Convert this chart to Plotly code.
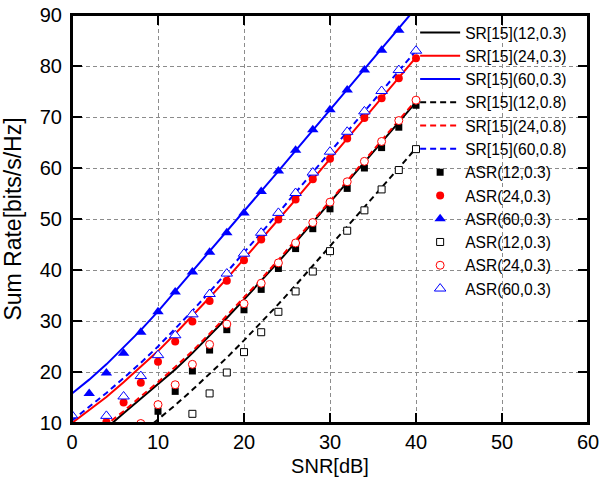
import plotly.graph_objects as go

# ---------------- data ----------------
snr = [0, 2, 4, 6, 8, 10, 12, 14, 16, 18, 20, 22, 24, 26, 28, 30, 32, 34, 36, 38, 40]

sr_12_03 = [3.8, 6.5, 9.0, 11.9, 14.8, 17.6, 20.5, 23.7, 27.1, 30.6, 34.2, 37.8, 41.6, 45.4, 49.3, 53.2, 57.1, 61.1, 65.0, 69.0, 72.9]
sr_24_03 = [10.0, 12.5, 15.1, 18.0, 21.0, 24.1, 27.5, 31.0, 34.6, 38.3, 42.1, 46.0, 49.9, 53.8, 57.8, 61.8, 65.8, 69.7, 73.7, 77.7, 81.7]
sr_60_03 = [15.8, 18.5, 21.5, 24.8, 28.2, 31.9, 35.8, 39.7, 43.6, 47.5, 51.4, 55.4, 59.4, 63.4, 67.4, 71.4, 75.4, 79.4, 83.4, 87.4, 91.4]
sr_12_08 = [-1.3, 1.0, 3.3, 5.6, 8.0, 10.7, 13.5, 16.5, 19.6, 22.8, 26.2, 29.7, 33.3, 37.0, 40.8, 44.6, 48.4, 52.3, 56.1, 60.0, 63.9]
sr_24_08 = [4.4, 7.0, 9.6, 12.3, 15.2, 18.0, 21.0, 24.1, 27.5, 31.0, 34.6, 38.2, 42.0, 45.8, 49.6, 53.5, 57.5, 61.4, 65.4, 69.3, 73.3]
sr_60_08 = [10.5, 13.2, 15.9, 18.8, 21.8, 25.0, 28.4, 32.0, 35.7, 39.5, 43.4, 47.3, 51.2, 55.2, 59.2, 63.2, 67.1, 71.1, 75.1, 79.1, 83.0]

asr_12_03_x = [10, 12, 14, 16, 18, 20, 22, 24, 26, 28, 30, 32, 34, 36, 38, 40]
asr_12_03 = [12.3, 16.2, 20.2, 24.3, 28.3, 32.2, 36.2, 40.3, 44.2, 48.1, 52.0, 56.0, 60.0, 64.0, 68.0, 72.3]
asr_24_03_x = [4, 6, 8, 10, 12, 14, 16, 18, 20, 22, 24, 26, 28, 30, 32, 34, 36, 38, 40]
asr_24_03 = [10.2, 14.0, 17.9, 22.0, 26.0, 29.9, 33.9, 37.9, 41.9, 46.0, 49.9, 53.8, 57.8, 61.8, 65.8, 69.8, 73.7, 77.6, 81.5]
asr_60_03_x = [2, 4, 6, 8, 10, 12, 14, 16, 18, 20, 22, 24, 26, 28, 30, 32, 34, 36, 38]
asr_60_03 = [15.8, 19.8, 23.7, 27.8, 31.8, 35.7, 39.6, 43.5, 47.3, 51.2, 55.4, 59.4, 63.5, 67.5, 71.4, 75.3, 79.2, 83.1, 87.0]
asr_12_08_x = [14, 16, 18, 20, 22, 24, 26, 28, 30, 32, 34, 36, 38, 40]
asr_12_08 = [11.8, 15.8, 19.9, 23.9, 27.8, 31.8, 35.8, 39.7, 43.7, 47.7, 51.7, 55.8, 59.6, 63.7]
asr_24_08_x = [8, 10, 12, 14, 16, 18, 20, 22, 24, 26, 28, 30, 32, 34, 36, 38, 40]
asr_24_08 = [9.9, 13.6, 17.5, 21.5, 25.4, 29.4, 33.4, 37.4, 41.4, 45.3, 49.3, 53.3, 57.3, 61.3, 65.2, 69.3, 73.3]
asr_60_08_x = [0, 4, 6, 8, 10, 12, 14, 16, 18, 20, 22, 24, 26, 28, 30, 32, 34, 36, 38, 40]
asr_60_08 = [11.5, 11.4, 15.2, 19.2, 23.3, 27.2, 31.3, 35.3, 39.3, 43.2, 47.3, 51.2, 55.1, 59.1, 63.2, 67.1, 71.1, 75.1, 79.2, 83.0]

x_ticks = [0, 10, 20, 30, 40, 50, 60]
y_ticks = [10, 20, 30, 40, 50, 60, 70, 80, 90]
x_range = [0, 60]
y_range = [10, 90]

BLACK, RED, BLUE = "#000000", "#ff0000", "#0000ff"
FONT = "Liberation Sans, Arial, sans-serif"

fig = go.Figure()

def add_line(name, y, color, dash):
    fig.add_trace(go.Scatter(x=snr, y=y, mode="lines", name=name,
                             line=dict(color=color, width=2, dash=dash)))

add_line("SR[15](12,0.3)", sr_12_03, BLACK, "solid")
add_line("SR[15](24,0.3)", sr_24_03, RED, "solid")
add_line("SR[15](60,0.3)", sr_60_03, BLUE, "solid")
add_line("SR[15](12,0.8)", sr_12_08, BLACK, "6px,4px")
add_line("SR[15](24,0.8)", sr_24_08, RED, "6px,4px")
add_line("SR[15](60,0.8)", sr_60_08, BLUE, "6px,4px")

def add_filled(name, x, y, color, symbol, size):
    fig.add_trace(go.Scatter(x=x, y=y, mode="markers", name=name,
                             marker=dict(color=color, symbol=symbol, size=size,
                                         line=dict(width=0))))

def add_open(name, x, y, color, symbol, size):
    fig.add_trace(go.Scatter(x=x, y=y, mode="markers", name=name,
                             marker=dict(color="white", symbol=symbol, size=size,
                                         line=dict(color=color, width=1))))

add_filled("ASR(12,0.3)", asr_12_03_x, asr_12_03, BLACK, "square", 7)
add_filled("ASR(24,0.3)", asr_24_03_x, asr_24_03, RED, "circle", 8)
add_filled("ASR(60,0.3)", asr_60_03_x, asr_60_03, BLUE, "triangle-up", 10)
add_open("ASR(12,0.3)", asr_12_08_x, asr_12_08, BLACK, "square", 7)
add_open("ASR(24,0.3)", asr_24_08_x, asr_24_08, RED, "circle", 8)
add_open("ASR(60,0.3)", asr_60_08_x, asr_60_08, BLUE, "triangle-up", 10)

axis_common = dict(
    showline=True, linecolor="black", linewidth=2, mirror="ticks",
    ticks="inside", ticklen=10, tickwidth=2, tickcolor="black",
    showgrid=True, gridcolor="#8c8c8c", gridwidth=1, griddash="4px,3px",
    zeroline=False, ticklabeloverflow="allow",
    tickfont=dict(size=20, color="black", family=FONT),
)

fig.update_layout(
    xaxis=dict(range=x_range, tickvals=x_ticks, ticktext=[str(v) for v in x_ticks],
               title=dict(text="SNR[dB]", font=dict(size=20, color="black", family=FONT), standoff=7),
               **axis_common),
    yaxis=dict(range=y_range, tickvals=y_ticks, ticktext=[str(v) for v in y_ticks],
               ticklabelstandoff=4,
               title=dict(text="Sum Rate[bits/s/Hz]", font=dict(size=23, color="black", family=FONT), standoff=12),
               **axis_common),
    width=599, height=482,
    margin=dict(l=72, r=11, t=15, b=59, autoexpand=False),
    plot_bgcolor="white", paper_bgcolor="white",
    font=dict(family=FONT, color="black"),
    showlegend=True,
    legend=dict(x=0.665, y=0.998, xanchor="left", yanchor="top",
                bgcolor="rgba(0,0,0,0)", borderwidth=0, maxheight=480,
                font=dict(size=15.6, family=FONT, color="black"),
                itemwidth=40, tracegroupgap=0),
    # full black frame round the plotting area
    shapes=[dict(type="rect", xref="paper", yref="paper", x0=0, y0=0, x1=1, y1=1,
                 line=dict(color="black", width=2), fillcolor="rgba(0,0,0,0)", layer="above")],
)

# remove the browser's default 8px body margin so the figure sits at the page origin
fig.write_html("out.html", config={"displayModeBar": False},
               post_script="document.body.style.margin='0';document.body.style.overflow='hidden';")
